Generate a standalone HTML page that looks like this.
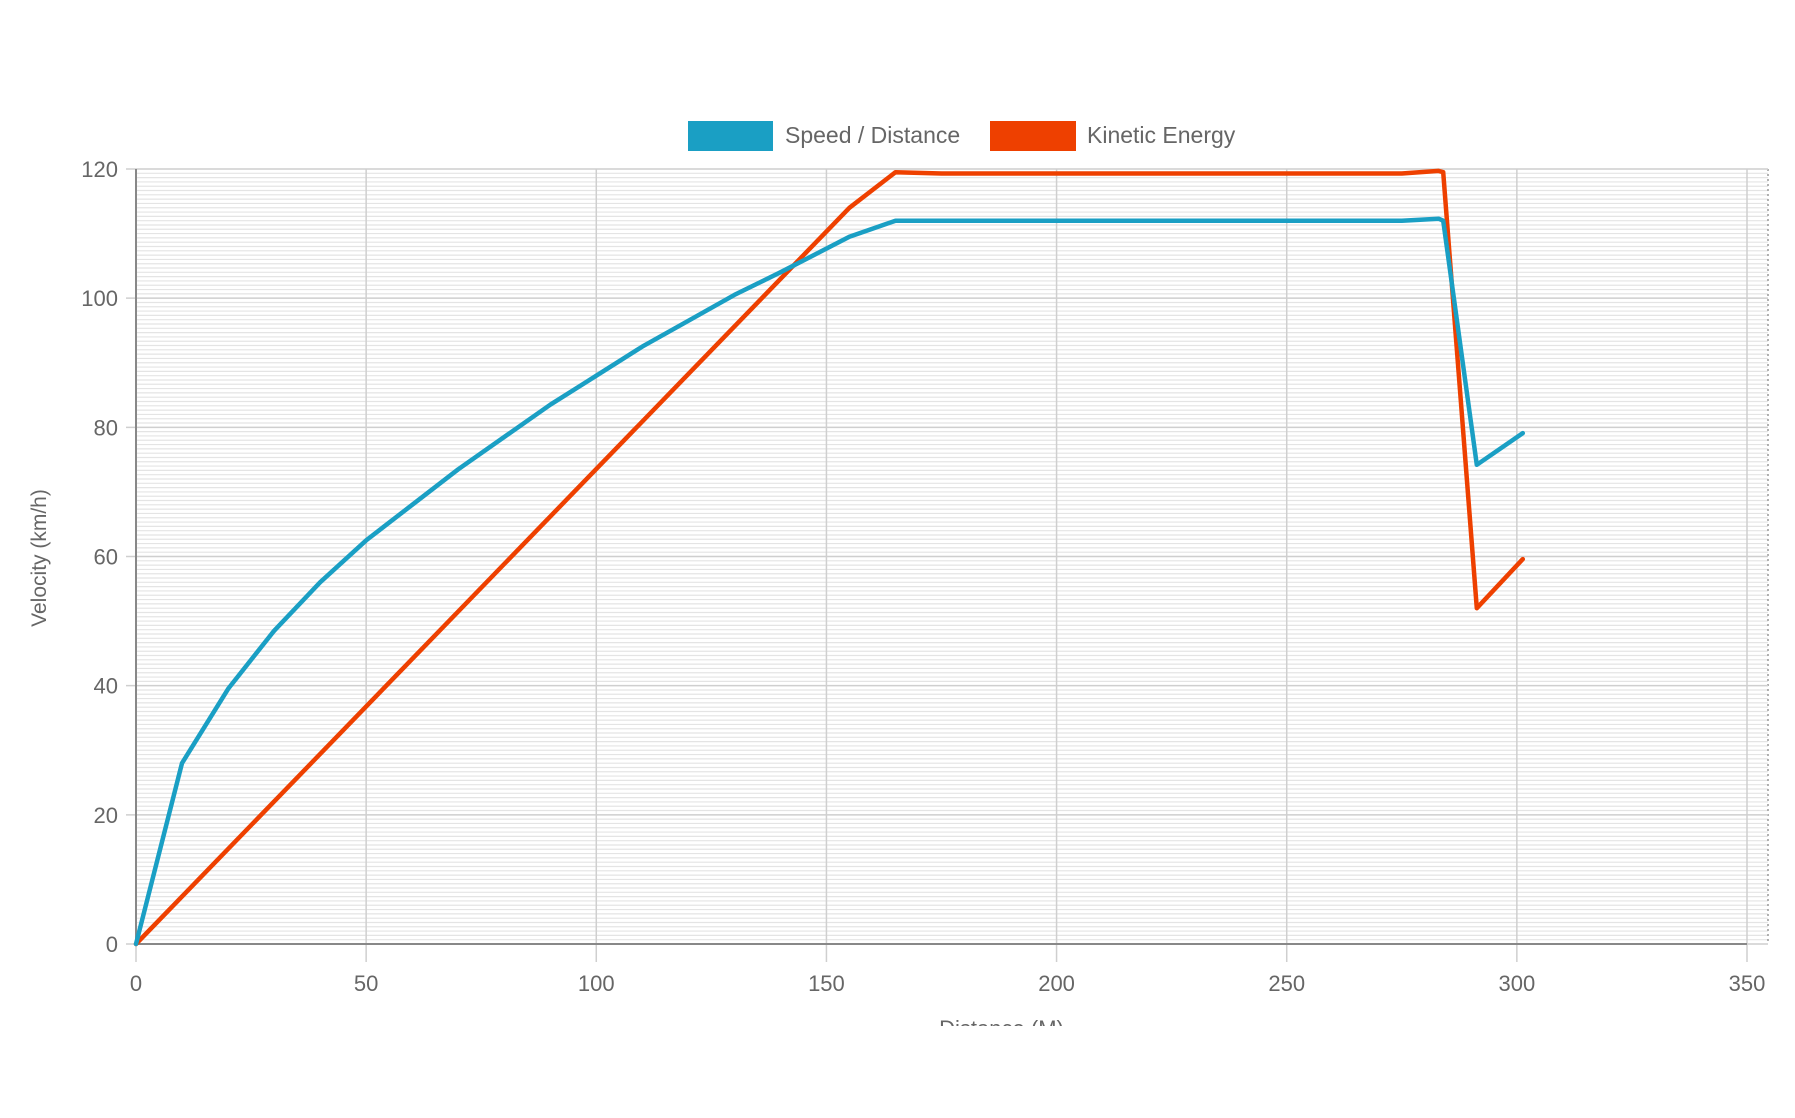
<!DOCTYPE html>
<html><head><meta charset="utf-8"><style>
html,body{margin:0;padding:0;background:#fff;width:1795px;height:1118px;overflow:hidden}
svg{display:block;font-family:"Liberation Sans",sans-serif}
</style></head><body>
<svg id="chart" width="1795" height="1118">
<defs><clipPath id="cp"><rect x="0" y="0" width="1795" height="1026"/></clipPath></defs>
<g id="grid"></g>
<g id="axes" clip-path="url(#cp)"></g>
<g id="series"></g>
<g>
<rect x="688" y="121" width="85" height="30" fill="#1a9fc4"/>
<text x="785" y="143" font-size="23" fill="#666">Speed / Distance</text>
<rect x="990" y="121" width="86" height="30" fill="#ee4000"/>
<text x="1087" y="143" font-size="23" fill="#666">Kinetic Energy</text>
</g>
<text transform="translate(46,558) rotate(-90)" text-anchor="middle" font-size="21" fill="#666">Velocity (km/h)</text>
</svg>
<script>
const xTicks=[0,50,100,150,200,250,300,350];
const yTicks=[0,20,40,60,80,100,120];
const speedX=[0,10,20,30,40,50,60,70,80,90,100,110,120,130,140,155,165,175,275,283,284,291.3,301.3];
const speedY=[0,28,39.5,48.5,56,62.5,68,73.5,78.5,83.5,88,92.5,96.5,100.5,104,109.5,112,112,112,112.3,112,74.2,79.1];
const energyX=[0,155,165,175,275,283,284,291.3,301.3];
const energyY=[0,114,119.5,119.3,119.3,119.7,119.5,52,59.6];
const X0=136,X1=1747,Y0=944,Y1=169;
const sx=v=>X0+(v-0)*(X1-X0)/350;
const sy=v=>Y0-(v-0)*(Y0-Y1)/120;
const NS='http://www.w3.org/2000/svg';
function mk(tag,attrs,parent){const e=document.createElementNS(NS,tag);for(const k in attrs)e.setAttribute(k,attrs[k]);parent.appendChild(e);return e;}
const grid=document.getElementById('grid'),axes=document.getElementById('axes'),series=document.getElementById('series');
// minor horizontal lines
for(let v=0;v<=120.001;v+=2/3){
 const l=mk('line',{x1:X0,x2:1768,y1:sy(v),y2:sy(v),stroke:'#e4e4e4','stroke-width':1.2},grid);
 
 
}
mk('line',{x1:1768,x2:1768,y1:Y1,y2:Y0,stroke:'#999','stroke-width':1.5,'stroke-dasharray':'2 3'},grid);
yTicks.forEach(t=>{
 const l=mk('line',{x1:X0-10,x2:1768,y1:sy(t),y2:sy(t),stroke:'#cfcfcf','stroke-width':1.5},grid);
 
 
 const tx=mk('text',{x:X0-18,y:sy(t)+8,'text-anchor':'end','font-size':22,fill:'#666'},axes);
 tx.textContent=t;
 
 
});
xTicks.forEach(t=>{
 const l=mk('line',{x1:sx(t),x2:sx(t),y1:Y1,y2:Y0+18,stroke:'#cfcfcf','stroke-width':1.5},grid);
 
 
 const tx=mk('text',{x:sx(t),y:Y0+47,'text-anchor':'middle','font-size':22,fill:'#666'},axes);
 tx.textContent=t;
 
 
});
mk('line',{x1:X0,x2:X1,y1:Y0,y2:Y0,stroke:'#888','stroke-width':2},axes);
mk('line',{x1:X0,x2:X0,y1:Y1,y2:Y0,stroke:'#888','stroke-width':2},axes);
const xt=mk('text',{x:(X0+X1)/2+60,y:1036,'text-anchor':'middle','font-size':22,fill:'#666'},axes);
xt.textContent='Distance (M)';


function line(xs,ys,color,name){
 const d=xs.map((x,i)=>(i?'L':'M')+sx(x).toFixed(1)+','+sy(ys[i]).toFixed(1)).join(' ');
 const p=mk('path',{d:d,fill:'none',stroke:color,'stroke-width':4.5,'stroke-linejoin':'round','stroke-linecap':'round'},series);
 
 
}
line(energyX,energyY,'#ee4000','kinetic-energy-line');
line(speedX,speedY,'#1a9fc4','speed-distance-line');
</script>
</body></html>
